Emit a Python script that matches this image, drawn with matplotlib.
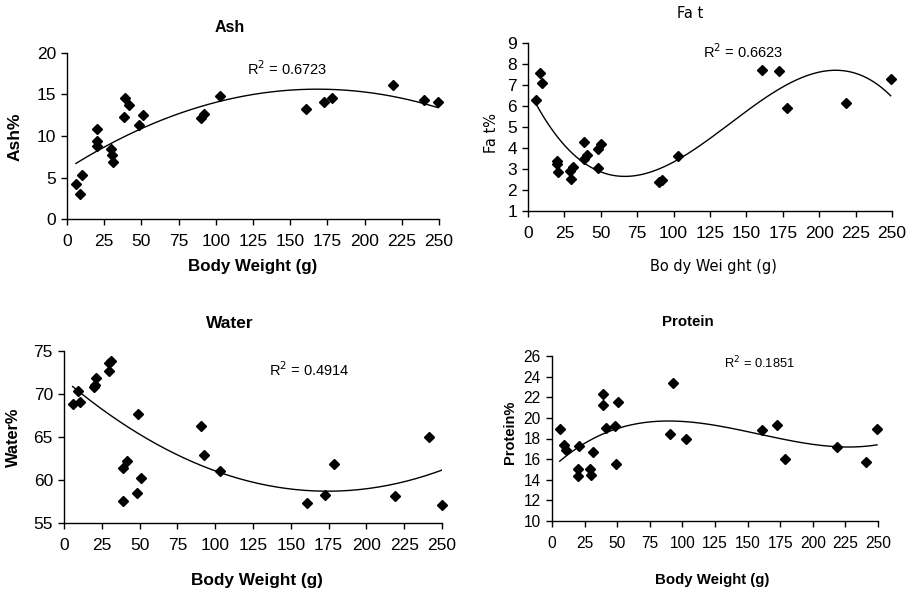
import matplotlib
matplotlib.use("Agg")
import matplotlib.pyplot as plt
import numpy as np

plt.rcParams['font.family'] = ['Liberation Sans', 'DejaVu Sans']

# Ash (%) vs body weight (g)
ash_x = [6, 9, 10.3, 20.4, 19.9, 20.4, 29.3, 30, 31.1, 38.5, 39.2, 41.4, 48.3, 50.8,
         90, 92, 102.7, 160.5, 172.6, 178.4, 218.9, 240.2, 249.3]
ash_y = [4.2, 3.0, 5.3, 10.8, 9.4, 8.85, 8.4, 7.7, 6.9, 12.3, 14.6, 13.7, 11.3, 12.5,
         12.2, 12.6, 14.8, 13.2, 14.1, 14.6, 16.2, 14.3, 14.1]

# Fat (%)
fat_x = [5.7, 8.5, 9.4, 19.9, 20.1, 20.6, 28.8, 29.3, 30.6, 38.2, 38.4, 40.7, 47.8, 48.2,
         50.3, 90, 91.9, 102.8, 160.6, 172.3, 178.2, 218.5, 249.1]
fat_y = [6.27, 7.57, 7.08, 3.37, 3.25, 2.84, 2.9, 2.51, 3.08, 4.3, 3.48, 3.67, 3.03, 3.97,
         4.21, 2.37, 2.46, 3.63, 7.71, 7.65, 5.9, 6.14, 7.29]

# Water (%)
water_x = [5.7, 9, 10.4, 20, 20.7, 21.4, 29.7, 30, 31.3, 38.8, 39.2, 41.4, 48, 49.1, 50.9,
           90.5, 92.5, 103.3, 160.8, 172.7, 178.4, 219.2, 241.2, 249.8]
water_y = [68.8, 70.4, 69.1, 70.8, 71.1, 71.9, 72.7, 73.6, 73.8, 61.4, 57.6, 62.2, 58.5, 67.7,
           60.2, 66.3, 62.9, 61.1, 57.3, 58.2, 61.9, 58.1, 65.0, 57.1]

# Protein (%)
protein_x = [5.9, 9.2, 10.5, 20.7, 19.6, 20.2, 29.3, 29.6, 31.4, 39, 38.8, 41.3, 48, 48.7,
             50.8, 90.3, 92.6, 103.1, 160.7, 172.4, 178.3, 218.6, 240.6, 249.2]
protein_y = [18.94, 17.35, 16.87, 17.26, 15.03, 14.35, 15.03, 14.45, 16.7, 22.32, 21.29, 19.03,
             19.23, 15.52, 21.55, 18.45, 23.42, 17.94, 18.81, 19.35, 16.03, 17.16, 15.68, 18.94]

x_ticks = list(range(0, 251, 25))

W, H = 918, 593
fig = plt.figure(figsize=(W / 100, H / 100), dpi=100)


def make_axes(left, right, top, bottom):
    return fig.add_axes([left / W, 1 - bottom / H, (right - left) / W, (bottom - top) / H])


def panel(ax, xs, ys, order, ylim, ystep, r2, r2_pos, title, title_pos,
          ylabel, ylabel_pos, xlabel, xlabel_pos, sizes, weight='bold', family=None):
    # sizes: title, xlabel, ylabel, ticks, r2
    ts, xs_, ys_, tk, rs = sizes
    fam = family or ['Liberation Sans', 'DejaVu Sans']
    xs = np.array(xs)
    ys = np.array(ys)
    # Excel-style polynomial trendline
    coef = np.polyfit(xs, ys, order)
    xx = np.linspace(xs.min(), xs.max(), 200)
    ax.plot(xx, np.polyval(coef, xx), color='black', lw=1.0)
    ax.plot(xs, ys, linestyle='none', marker='D', ms=5.5, color='black', clip_on=False)

    ax.set_xlim(0, 250)
    ax.set_ylim(*ylim)
    ax.set_xticks(x_ticks)
    ax.set_yticks(np.arange(ylim[0], ylim[1] + 0.01, ystep))
    for s in ['top', 'right']:
        ax.spines[s].set_visible(False)
    for s in ['left', 'bottom']:
        ax.spines[s].set_linewidth(1.0)
    ax.tick_params(direction='out', length=4, width=1, labelsize=tk)
    ax.tick_params(axis='x', pad=7)
    ax.tick_params(axis='y', pad=4)

    fig.text(title_pos[0] / W, 1 - title_pos[1] / H, title, ha='center', va='center',
             fontsize=ts, fontweight=weight, family=fam)
    fig.text(xlabel_pos[0] / W, 1 - xlabel_pos[1] / H, xlabel, ha='center', va='center',
             fontsize=xs_, fontweight=weight, family=fam)
    fig.text(ylabel_pos[0] / W, 1 - ylabel_pos[1] / H, ylabel, ha='center', va='center',
             fontsize=ys_, fontweight=weight, rotation=90, family=fam)
    fig.text(r2_pos[0] / W, 1 - r2_pos[1] / H, 'R$^2$ = ' + r2, ha='left', va='center',
             fontsize=rs)


ax1 = make_axes(67, 439, 53, 219)
panel(ax1, ash_x, ash_y, 2, (0, 20), 5, '0.6723', (247, 69), 'Ash', (230, 28),
      'Ash%', (15, 137), 'Body Weight (g)', (253, 266), (11.5, 12.2, 12.5, 12.5, 10.5))

ax2 = make_axes(528, 892, 43, 211)
panel(ax2, fat_x, fat_y, 3, (1, 9), 1, '0.6623', (703, 52), 'Fa t', (690, 13),
      'Fa t%', (492, 133), 'Bo dy Wei ght (g)', (713, 266), (10.5, 10.5, 10.5, 12.5, 10.5),
      weight='normal', family=['DejaVu Sans'])

ax3 = make_axes(64, 442, 351, 523)
panel(ax3, water_x, water_y, 2, (55, 75), 5, '0.4914', (269, 370), 'Water', (230, 324),
      'Water%', (13, 437), 'Body Weight (g)', (257, 580), (12.5, 12.4, 11.8, 12.5, 10.5))

ax4 = make_axes(552, 878, 356, 521)
panel(ax4, protein_x, protein_y, 3, (10, 26), 2, '0.1851', (724, 363), 'Protein', (688, 322),
      'Protein%', (510, 432), 'Body Weight (g)', (712, 580), (10.8, 10.8, 10.5, 11.2, 9.3))

fig.savefig('out.png', dpi=100)
